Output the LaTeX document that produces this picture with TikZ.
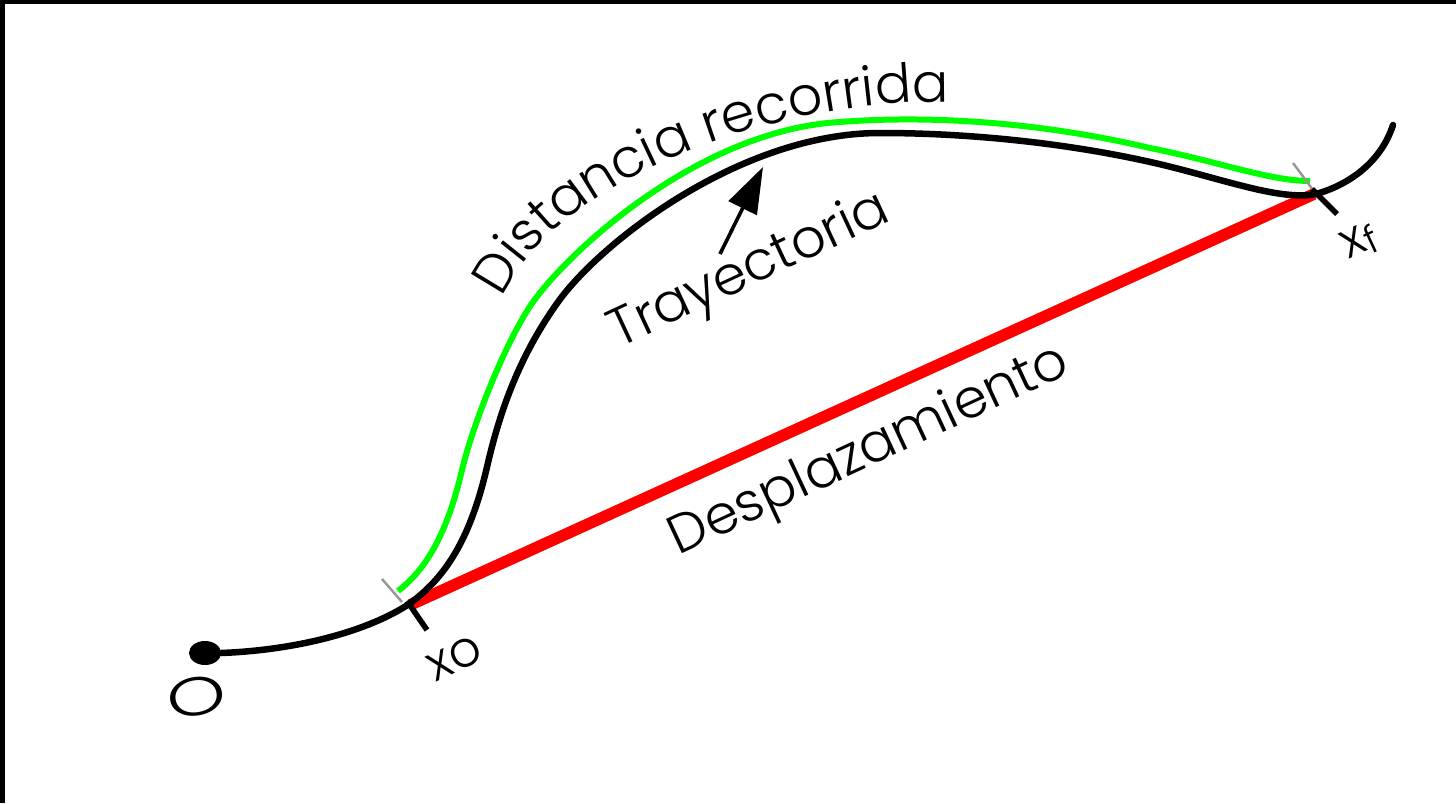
\documentclass[tikz,border=0pt]{standalone}
\usepackage{fontspec}
\IfFontExistsTF{Poppins Light}{\newfontfamily\lblfont{Poppins Light}}{\newfontfamily\lblfont{Poppins}}
\usetikzlibrary{arrows.meta,decorations.text,shapes.geometric}
\definecolor{pgreen}{RGB}{0,255,0}
\definecolor{pred}{RGB}{255,0,0}
\definecolor{tickgray}{RGB}{150,150,150}
\begin{document}
\begin{tikzpicture}[x=0.25pt,y=-0.25pt,
  trajline/.style={line width=1.625pt,black,line cap=round,line join=round},
  distline/.style={line width=1.5pt,pgreen},
  displine/.style={line width=2.9pt,pred},
  blacktick/.style={line width=1.4pt,black},
  graytick/.style={line width=0.6pt,tickgray},
  lbl/.style={font=\lblfont\fontsize{13.5}{15}\selectfont,inner sep=0pt,rotate=25},
  ptlbl/.style={font=\lblfont\fontsize{12.5}{14}\selectfont,inner sep=0pt,rotate=25},
  pointer/.style={line width=0.9pt,-{Triangle[length=11.5pt,width=7.75pt]}}]
\useasboundingbox (0,0) rectangle (1456,803);
\fill[white] (0,0) rectangle (1456,803);
% frame
\fill[black] (0,0) rectangle (1456,4);
\fill[black] (0,0) rectangle (5,803);
% key points
\coordinate (x0) at (410,605);
\coordinate (xf) at (1314,194);
\coordinate (arrtail) at (720,254);
\coordinate (arrtip) at (763,167);
\coordinate (txtstart) at (505,292);
\coordinate (txtend) at (942,102);
\coordinate (gstart) at (398,591);
\coordinate (gend) at (1310,181);
\coordinate (tstart) at (221,653);
\coordinate (tx0) at (409,604);
\coordinate (txf) at (1316,194);
\coordinate (tend) at (1393,125);
% displacement
\draw[displine] (x0) -- (xf);
% distance (green)
\draw[distline] (gstart) .. controls (428,568) and (448,530) .. (462,470)
  .. controls (474,420) and (508,337) .. (533,302)
  .. controls (570,250) and (700,130) .. (840,122)
  .. controls (930,115) and (1040,122) .. (1150,148)
  .. controls (1220,162) and (1270,181) .. (gend);
% trajectory (black)
\draw[trajline] (tstart) .. controls (300,650) and (370,630) .. (tx0)
  .. controls (445,578) and (470,540) .. (487,467)
  .. controls (500,410) and (520,355) .. (558,302)
  .. controls (600,243) and (740,133) .. (880,133)
  .. controls (990,133) and (1100,148) .. (1183,170)
  .. controls (1240,185) and (1285,200) .. (txf)
  .. controls (1345,186) and (1380,165) .. (tend);
% origin dot
\node[ellipse,fill=black,minimum width=8pt,minimum height=6pt,inner sep=0pt] (dot) at (205,653) {};
% ticks
\draw[graytick] (x0) ++(-28,-26) -- ++(20,23);
\draw[blacktick] (x0) ++(-3,-4) -- ++(20,29);
\draw[graytick] (xf) ++(-21,-31) -- ++(20,27);
\draw[blacktick] (xf) ++(-2,-5) -- ++(25,25);
% pointer arrow
\draw[pointer] (arrtail) -- (arrtip);
% labels
\node[lbl] (traylbl) at (750,272) {Trayectoria};
\node[lbl] (displbl) at (870,452) {Desplazamiento};
\node[font=\lblfont\fontsize{13.5}{15}\selectfont,inner sep=0pt,rotate=10,xscale=1.4] (olbl) at (197,697) {O};
\node[ptlbl] (x0lbl) at (455,658) {xo};
\node[ptlbl] (xflbl) at (1360,242) {x\raisebox{-1.5pt}{\fontsize{9.5}{10}\selectfont f}};
% distance label along the path
\path[decorate,decoration={text along path,text align=center,
  text={|\lblfont\fontsize{13.5}{15}\selectfont|Distancia recorrida}}]
  (txtstart) .. controls (565,175) and (780,100) .. (txtend);
\end{tikzpicture}
\end{document}
